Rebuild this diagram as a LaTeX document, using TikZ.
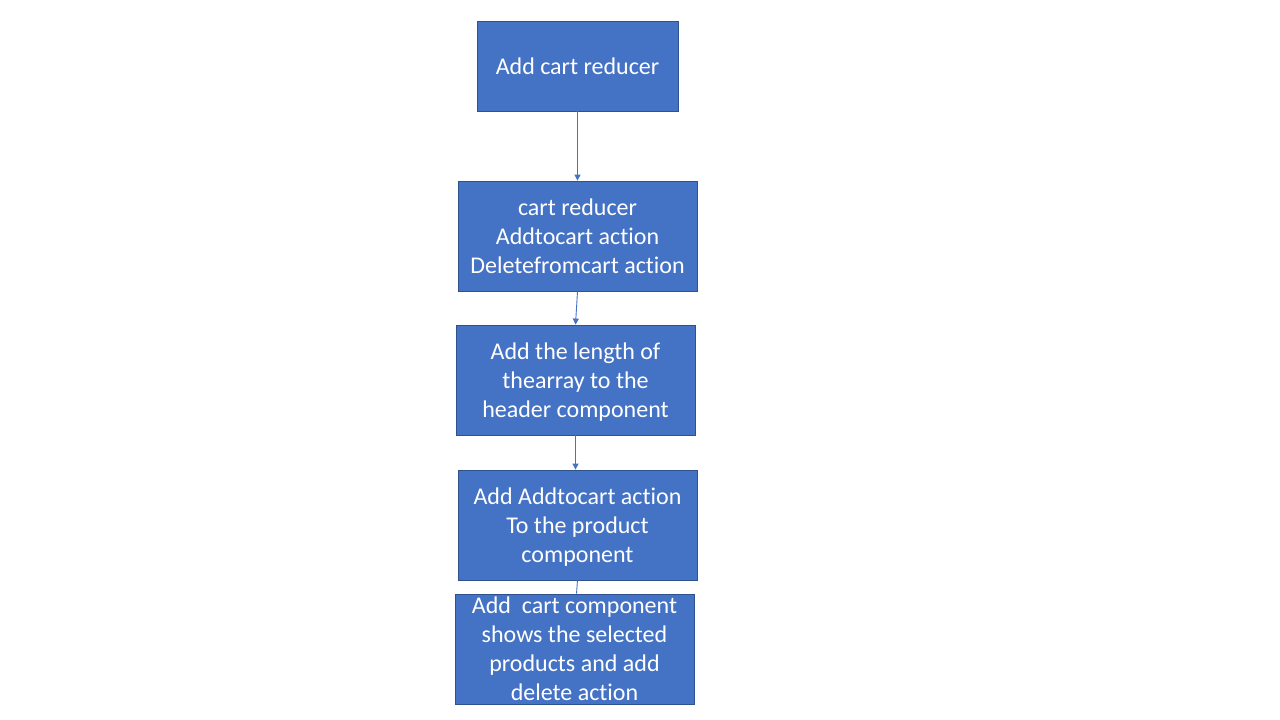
\documentclass[tikz,border=0pt]{standalone}
\usepackage{fontspec}
\setmainfont{Carlito}[Ligatures=NoCommon]
\usetikzlibrary{arrows.meta}
\definecolor{boxfill}{HTML}{4472C4}
\definecolor{boxline}{HTML}{2F528F}
\begin{document}
\begin{tikzpicture}[x=1pt,y=-1pt,
  boxtext/.style={text=white, inner sep=0pt, align=center, font=\fontsize{24}{29}\selectfont},
  stepbox/.style={boxtext, draw=boxline, line width=0.8pt, fill=boxfill},
  conn/.style={draw=boxfill, line width=0.9pt, -{Triangle[length=6pt,width=6pt]}}]
\useasboundingbox (0,0) rectangle (1280,720);
\fill[white] (0,0) rectangle (1280,720);
\node[stepbox, minimum width=201pt, minimum height=90pt] (b1) at (577.5,66) {Add cart reducer};
\node[stepbox, minimum width=239pt, minimum height=110pt] (b2) at (577.5,236) {cart reducer\\Addtocart action\\Deletefromcart action};
\node[stepbox, minimum width=239pt, minimum height=110pt] (b3) at (575.5,380) {};
\node[boxtext] (b3t) at ([yshift=-2pt]b3.center) {Add the length of\\thearray to the\\header component};
\node[stepbox, minimum width=239pt, minimum height=110pt] (b4) at (577.5,525) {};
\node[boxtext] (b4t) at ([yshift=-2pt]b4.center) {Add Addtocart action\\To the product\\component};
\node[stepbox, minimum width=239pt, minimum height=110pt] (b5) at (574.5,649) {Add\ \ cart component\\shows the selected\\products and add\\delete action};
\draw[conn] (b1.south) -- (b2.north);
\draw[conn] (b2.south) -- (b3.north);
\draw[conn] (b3.south) -- (b3.south |- b4.north);
\draw[draw=boxfill, line width=0.9pt] (b4.south) -- ([xshift=2pt]b5.north);
\end{tikzpicture}
\end{document}
